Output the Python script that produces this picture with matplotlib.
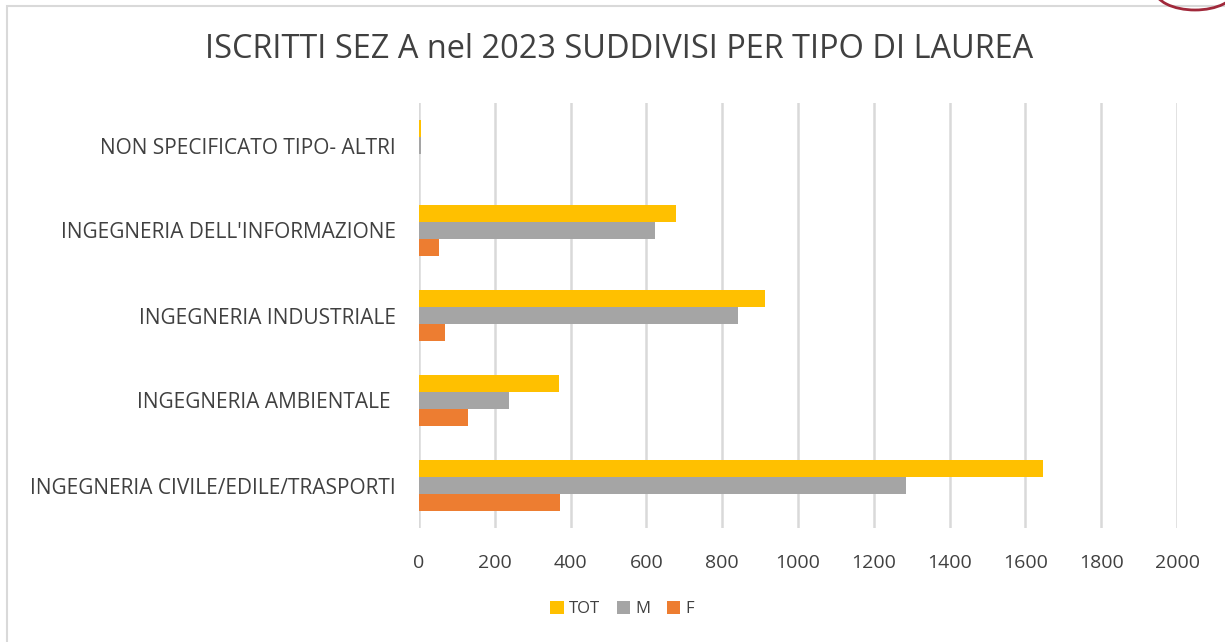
import matplotlib.pyplot as plt
from matplotlib.patches import Rectangle, Arc
import numpy as np

plt.rcParams['font.family'] = ['Open Sans', 'DejaVu Sans']

categorie = ['INGEGNERIA CIVILE/EDILE/TRASPORTI', 'INGEGNERIA AMBIENTALE ', 'INGEGNERIA INDUSTRIALE',
             "INGEGNERIA DELL'INFORMAZIONE", 'NON SPECIFICATO TIPO- ALTRI']
tot = [1646, 369, 913, 678, 5]
m = [1285, 237, 842, 623, 5]
f = [372, 129, 69, 53, 1]
xticks = [0, 200, 400, 600, 800, 1000, 1200, 1400, 1600, 1800, 2000]

W, H = 1225, 642
fig = plt.figure(figsize=(W / 100, H / 100), dpi=100)
# riquadro del grafico
fig.patches.append(Rectangle((7 / W, -0.1), 1.2, 1 - 6 / H + 0.1, transform=fig.transFigure,
                             fill=False, edgecolor='#d9d9d9', linewidth=1.5))
# pezzo di logo in alto a destra
fig.patches.append(Arc((1195 / W, 1 + 10 / H), 80 / W, 40 / H, theta1=180, theta2=360,
                       transform=fig.transFigure, edgecolor='#a0283a', linewidth=2))

ax = fig.add_axes([419 / W, 1 - 528 / H, (1177 - 419) / W, 425 / H])
y = np.arange(len(categorie))
h = 0.2
ax.barh(y + h, tot, height=h, color='#FFC000', label='TOT', zorder=3)
ax.barh(y, m, height=h, color='#A5A5A5', label='M', zorder=3)
ax.barh(y - h, f, height=h, color='#ED7D31', label='F', zorder=3)

ax.set_xlim(0, 2000)
ax.set_ylim(-0.5, len(categorie) - 0.5)
ax.set_xticks(xticks)
ax.set_yticks(y)
ax.set_yticklabels(categorie)
ax.tick_params(axis='x', length=0, pad=19, labelsize=14, labelcolor='#404040')
ax.tick_params(axis='y', length=0, pad=16.5, labelsize=15, labelcolor='#404040')
ax.grid(axis='x', color='#d9d9d9', linewidth=1.8, zorder=0)
for s in ax.spines.values():
    s.set_visible(False)

fig.text(619 / W, 1 - 50 / H, 'ISCRITTI SEZ A nel 2023 SUDDIVISI PER TIPO DI LAUREA',
         ha='center', va='center', fontsize=23.4, color='#404040')
fig.legend(loc='center', bbox_to_anchor=(622 / W, 1 - 609 / H), ncol=3, frameon=False,
           fontsize=12, handlelength=0.8, handleheight=0.8, handletextpad=0.3, columnspacing=1.0,
           labelcolor='#404040')

fig.savefig('out.png', dpi=100)
